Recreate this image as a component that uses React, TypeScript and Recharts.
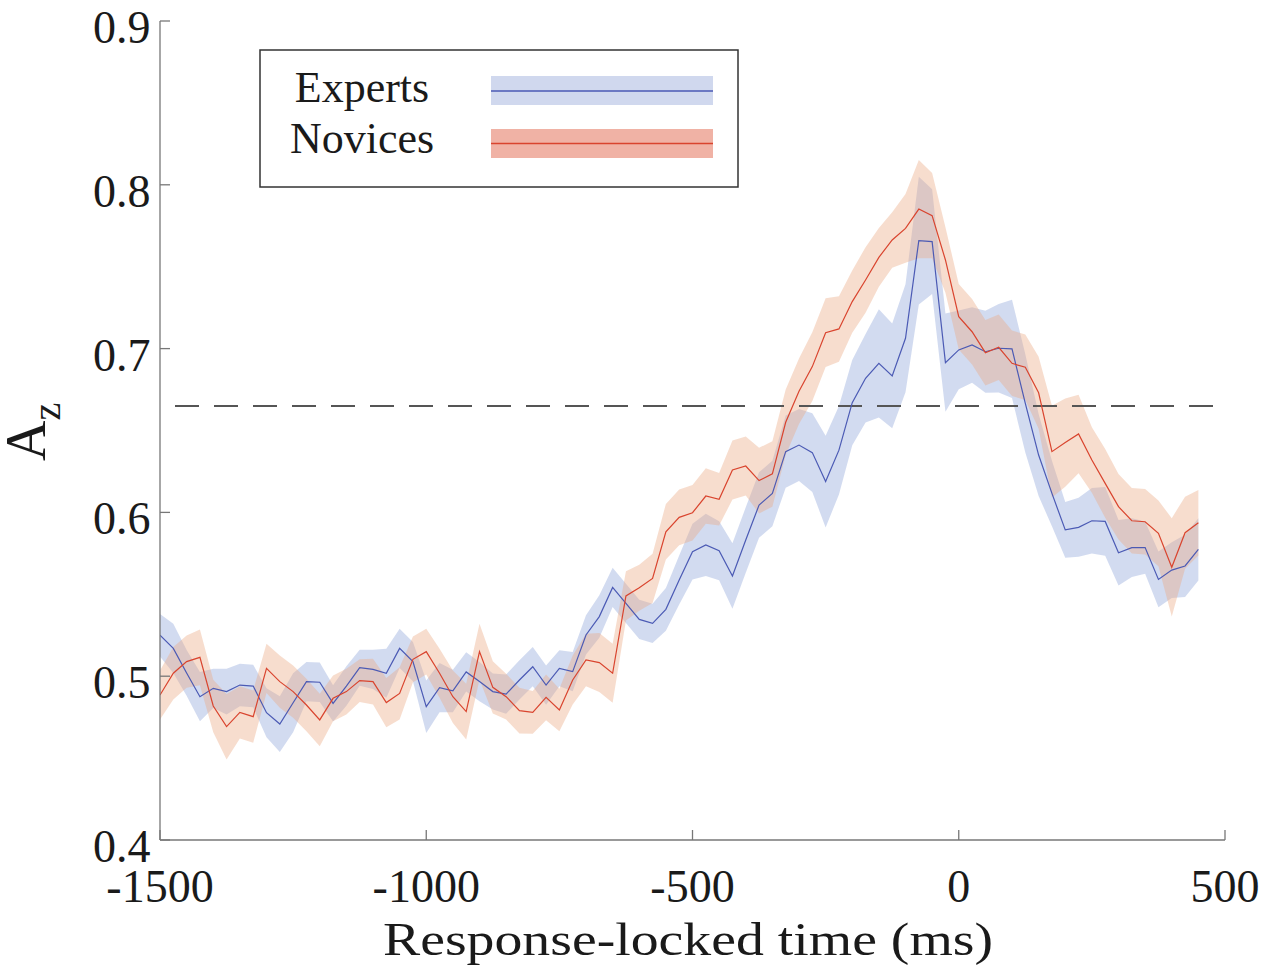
import React from "react";
import { ComposedChart, Area, Line, XAxis, YAxis, ReferenceLine } from "recharts";

// time (ms) of each sample: -1500 .. 450 in 25 ms steps
const timesMs = Array.from({ length: 79 }, (_, i) => -1500 + 25 * i);

const expertsMean = [
  0.525, 0.517, 0.502, 0.4875, 0.4926, 0.4906, 0.4946, 0.494, 0.4777, 0.4708,
  0.4838, 0.4967, 0.4963, 0.4834, 0.494, 0.5052, 0.5042, 0.5018, 0.517, 0.5089,
  0.4814, 0.493, 0.491, 0.5026, 0.4967, 0.4906, 0.4891, 0.4977, 0.5058, 0.4946,
  0.5048, 0.5028, 0.5252, 0.5364, 0.5542, 0.5445, 0.5347, 0.5323, 0.5408, 0.5587,
  0.576, 0.5801, 0.5766, 0.5612, 0.5831, 0.6045, 0.6116, 0.6371, 0.6411, 0.6365,
  0.6188, 0.638, 0.667, 0.6819, 0.691, 0.6833, 0.7063, 0.7659, 0.7653, 0.6914,
  0.6992, 0.7022, 0.6981, 0.7002, 0.6998, 0.6666, 0.635, 0.6116, 0.5893, 0.5909,
  0.5949, 0.5945, 0.5754, 0.5785, 0.5785, 0.5591, 0.5648, 0.5673, 0.5775,
];
const expertsErr = [
  0.013, 0.015, 0.014, 0.015, 0.012, 0.014, 0.013, 0.013, 0.015, 0.017,
  0.018, 0.012, 0.012, 0.011, 0.012, 0.011, 0.012, 0.015, 0.012, 0.012,
  0.016, 0.015, 0.013, 0.012, 0.012, 0.011, 0.012, 0.012, 0.012, 0.012,
  0.011, 0.012, 0.012, 0.013, 0.012, 0.012, 0.012, 0.012, 0.013, 0.015,
  0.017, 0.019, 0.018, 0.02, 0.02, 0.02, 0.02, 0.022, 0.022, 0.024,
  0.028, 0.027, 0.026, 0.027, 0.033, 0.032, 0.033, 0.039, 0.032, 0.03,
  0.024, 0.023, 0.025, 0.027, 0.03, 0.03, 0.025, 0.02, 0.017, 0.018,
  0.02, 0.021, 0.02, 0.018, 0.016, 0.017, 0.017, 0.019, 0.019,
];
const novicesMean = [
  0.4885, 0.5018, 0.5089, 0.5115, 0.4818, 0.4692, 0.4779, 0.4753, 0.5048, 0.4967,
  0.4906, 0.4824, 0.4733, 0.4865, 0.4906, 0.4973, 0.4967, 0.4839, 0.4895, 0.5103,
  0.515, 0.5018, 0.4875, 0.4784, 0.515, 0.4932, 0.4875, 0.479, 0.4779, 0.4871,
  0.4794, 0.4977, 0.5099, 0.5083, 0.5018, 0.549, 0.554, 0.5597, 0.5882, 0.597,
  0.5998, 0.61, 0.608, 0.6259, 0.6283, 0.6194, 0.6235, 0.655, 0.674, 0.689,
  0.7097, 0.712, 0.7287, 0.7419, 0.7557, 0.7663, 0.7734, 0.7852, 0.7812, 0.7541,
  0.7195, 0.7103, 0.6975, 0.7008, 0.691, 0.6886, 0.673, 0.6371, 0.6426, 0.6479,
  0.632, 0.6177, 0.6035, 0.5949, 0.5943, 0.5872, 0.5665, 0.5876, 0.5937,
];
const novicesErr = [
  0.015, 0.016, 0.016, 0.017, 0.016, 0.02, 0.016, 0.016, 0.015, 0.016,
  0.016, 0.016, 0.016, 0.014, 0.014, 0.013, 0.014, 0.015, 0.016, 0.014,
  0.014, 0.015, 0.016, 0.017, 0.017, 0.016, 0.014, 0.014, 0.013, 0.014,
  0.013, 0.015, 0.016, 0.018, 0.018, 0.015, 0.014, 0.015, 0.017, 0.017,
  0.017, 0.017, 0.016, 0.018, 0.018, 0.02, 0.02, 0.02, 0.02, 0.021,
  0.021, 0.02, 0.019, 0.02, 0.018, 0.017, 0.021, 0.03, 0.026, 0.02,
  0.02, 0.02, 0.02, 0.02, 0.02, 0.02, 0.022, 0.028, 0.027, 0.024,
  0.02, 0.021, 0.02, 0.02, 0.02, 0.02, 0.03, 0.022, 0.02,
];

const xTicks = [-1500, -1000, -500, 0, 500];
const yTicks = [0.4, 0.5, 0.6, 0.7, 0.8, 0.9];
const chanceLevel = 0.665;
const seriesNames = ["Experts", "Novices"];

const data = timesMs.map((t, i) => ({
  t,
  exp: expertsMean[i],
  nov: novicesMean[i],
  expBand: [expertsMean[i] - expertsErr[i], expertsMean[i] + expertsErr[i]],
  novBand: [novicesMean[i] - novicesErr[i], novicesMean[i] + novicesErr[i]],
}));

const FONT = '"Liberation Serif", "Times New Roman", Times, serif';
const AXIS = "#777";
const BLUE = "#4b5ab4";
const RED = "#d9442e";

const XTick = (props: any) => {
  const { x, y, payload } = props;
  return (
    <g>
      <line x1={x} y1={y} x2={x} y2={y - 10} stroke={AXIS} strokeWidth={1.3} />
      <text x={x} y={y + 62} textAnchor="middle" fontSize={46} fontFamily={FONT} fill="#1a1a1a">
        {String(payload.value)}
      </text>
    </g>
  );
};

const YTick = (props: any) => {
  const { x, y, payload } = props;
  return (
    <g>
      <line x1={x} y1={y} x2={x + 10} y2={y} stroke={AXIS} strokeWidth={1.3} />
      <text x={x - 9.5} y={y + 22} textAnchor="end" fontSize={46} fontFamily={FONT} fill="#1a1a1a">
        {Number(payload.value).toFixed(1)}
      </text>
    </g>
  );
};

export default function App() {
  return (
    <div style={{ position: "absolute", left: 0, top: 0, width: 1264, height: 972, background: "#fff" }}>
      <ComposedChart
        width={1264}
        height={972}
        data={data}
        margin={{ top: 21, right: 39, left: 60, bottom: 32 }}
      >
        <XAxis
          dataKey="t"
          type="number"
          domain={[-1500, 500]}
          ticks={xTicks}
          interval={0}
          height={100}
          tickSize={0}
          tickMargin={0}
          axisLine={{ stroke: AXIS, strokeWidth: 1.3 }}
          tickLine={false}
          tick={<XTick />}
          allowDataOverflow
        />
        <YAxis
          type="number"
          domain={[0.4, 0.9]}
          ticks={yTicks}
          interval={0}
          width={100}
          tickSize={0}
          tickMargin={0}
          axisLine={{ stroke: AXIS, strokeWidth: 1.3 }}
          tickLine={false}
          tick={<YTick />}
          allowDataOverflow
        />
        <Area
          type="linear"
          dataKey="expBand"
          stroke="none"
          fill="#8ea5da"
          fillOpacity={0.4}
          isAnimationActive={false}
          activeDot={false}
        />
        <Area
          type="linear"
          dataKey="novBand"
          stroke="none"
          fill="#eca985"
          fillOpacity={0.4}
          isAnimationActive={false}
          activeDot={false}
        />
        <ReferenceLine
          y={chanceLevel}
          stroke="#555"
          strokeWidth={2}
          strokeDasharray="0 15 24 0"
        />
        <Line
          type="linear"
          dataKey="exp"
          stroke={BLUE}
          strokeWidth={1.2}
          dot={false}
          activeDot={false}
          isAnimationActive={false}
        />
        <Line
          type="linear"
          dataKey="nov"
          stroke={RED}
          strokeWidth={1.2}
          dot={false}
          activeDot={false}
          isAnimationActive={false}
        />
        {/* axis titles */}
        <text
          x={688}
          y={955}
          textAnchor="middle"
          fontSize={46}
          fontFamily={FONT}
          fill="#1a1a1a"
          textLength={610}
          lengthAdjust="spacingAndGlyphs"
        >
          Response-locked time (ms)
        </text>
        <text transform="translate(45,461) rotate(-90)" fontFamily={FONT} fill="#1a1a1a">
          <tspan fontSize={56}>A</tspan>
          <tspan fontSize={40} dy={15}>z</tspan>
        </text>
        {/* legend */}
        <g>
          <rect x={260} y={50} width={478} height={137} fill="#fff" stroke="#333" strokeWidth={1.5} />
          <text x={362} y={101.7} textAnchor="middle" fontSize={44} fontFamily={FONT} fill="#1a1a1a">
            {seriesNames[0]}
          </text>
          <text x={362} y={153} textAnchor="middle" fontSize={44} fontFamily={FONT} fill="#1a1a1a">
            {seriesNames[1]}
          </text>
          <rect x={491} y={76} width={222} height={29} fill="#d0d8ee" />
          <line x1={491} y1={91} x2={713} y2={91} stroke={BLUE} strokeWidth={1.4} />
          <rect x={491} y={129} width={222} height={29} fill="#f0b2a5" />
          <line x1={491} y1={143.5} x2={713} y2={143.5} stroke={RED} strokeWidth={1.4} />
        </g>
      </ComposedChart>
    </div>
  );
}
